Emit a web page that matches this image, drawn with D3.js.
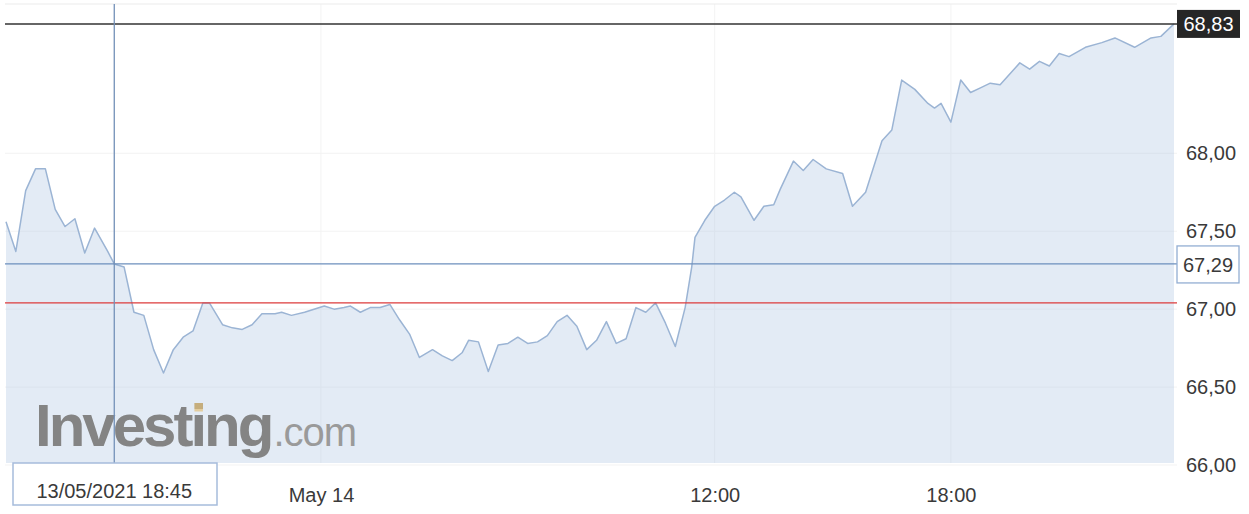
<!DOCTYPE html>
<html>
<head>
<meta charset="utf-8">
<script src="https://cdn.jsdelivr.net/npm/d3@7"></script>
<style>
    body { margin: 0; background: #fff; }
    #chart { width: 1249px; height: 514px; }
    #chart text { font-family: "Liberation Sans", Arial, sans-serif; }
</style>
</head>
<body>
<div id="chart"></div>
<script>
// trading minutes since 13/05/2021 16:00 (night break squeezed out)
const minutes = [0, 15, 30, 45, 60, 75, 90, 105, 120, 135, 155, 165, 180, 195, 210, 225, 240, 255, 270, 285,
    300, 310, 330, 345, 360, 375, 390, 410, 420, 435, 455, 485, 500, 515, 525, 540, 555, 570, 585, 600,
    615, 630, 650, 665, 680, 695, 705, 720, 735, 750, 765, 780, 795, 810, 825, 840, 855, 870, 885, 900,
    915, 930, 945, 960, 975, 990, 1005, 1020, 1035, 1045, 1050, 1065, 1080, 1095, 1110, 1120, 1140, 1155, 1170, 1180,
    1200, 1215, 1230, 1250, 1275, 1290, 1310, 1335, 1350, 1365, 1385, 1405, 1415, 1425, 1440, 1455, 1470, 1485, 1500, 1515,
    1545, 1560, 1575, 1590, 1605, 1620, 1645, 1670, 1690, 1720, 1745, 1760, 1780];

const prices = [67.56, 67.37, 67.76, 67.90, 67.90, 67.64, 67.53, 67.58, 67.36, 67.52, 67.37, 67.29, 67.27, 66.98, 66.96, 66.74, 66.59, 66.74, 66.82, 66.86,
    67.04, 67.04, 66.90, 66.88, 66.87, 66.90, 66.97, 66.97, 66.98, 66.96, 66.98, 67.02, 67.00, 67.01, 67.02, 66.98, 67.01, 67.01, 67.03, 66.93,
    66.84, 66.69, 66.74, 66.70, 66.67, 66.72, 66.80, 66.79, 66.60, 66.77, 66.78, 66.82, 66.78, 66.79, 66.83, 66.92, 66.96, 66.89, 66.74, 66.80,
    66.92, 66.78, 66.81, 67.01, 66.98, 67.04, 66.91, 66.76, 67.01, 67.27, 67.46, 67.57, 67.66, 67.70, 67.75, 67.72, 67.57, 67.66, 67.67, 67.77,
    67.95, 67.89, 67.96, 67.90, 67.87, 67.66, 67.75, 68.08, 68.15, 68.47, 68.41, 68.32, 68.29, 68.32, 68.20, 68.47, 68.39, 68.42, 68.45, 68.44,
    68.58, 68.54, 68.59, 68.56, 68.64, 68.62, 68.68, 68.71, 68.74, 68.68, 68.74, 68.75, 68.83];

const xTickLabels = ['May 14', '12:00', '18:00'];
const xTickMinutes = [480, 1080, 1440];
const yTicks = [66, 66.5, 67, 67.5, 68];

const lastPrice = 68.83;
const prevClose = 67.04;
const cursorMinute = 165;
const cursorPrice = 67.29;
const cursorLabel = '13/05/2021 18:45';

class PriceChart {
    constructor() {
        this.container = d3.select('#chart');
        this.width = 1249;
        this.height = 514;
        this.plot = { left: 5, right: 1177, top: 4, bottom: 463 };
        this.fmt = d => d3.format('.2f')(d).replace('.', ',');

        this.setupScales();
        this.setupSvg();
        this.drawGrid();
        this.drawSeries();
        this.drawWatermark();
        this.drawLevels();
        this.drawAxes();
        this.drawLabels();
    }

    setupScales() {
        this.x = d3.scaleLinear().domain([0, 1780]).range([6, 1174]);
        this.y = d3.scaleLinear().domain([66, 68.9]).range([465, 13]);
    }

    setupSvg() {
        this.svg = this.container
            .append('svg')
            .attr('width', this.width)
            .attr('height', this.height);

        this.svg.append('rect')
            .attr('width', this.width)
            .attr('height', this.height)
            .attr('fill', '#fff');
    }

    drawGrid() {
        const p = this.plot;
        const grid = this.svg.append('g').attr('class', 'grid');

        grid.selectAll('.hgrid')
            .data(yTicks)
            .join('line')
            .attr('x1', p.left).attr('x2', p.right)
            .attr('y1', d => this.y(d)).attr('y2', d => this.y(d))
            .attr('stroke', '#f3f3f3');

        grid.selectAll('.vgrid')
            .data(xTickMinutes)
            .join('line')
            .attr('x1', d => this.x(d)).attr('x2', d => this.x(d))
            .attr('y1', p.top).attr('y2', p.bottom)
            .attr('stroke', '#f3f3f3');

        // 上边框
        grid.append('line')
            .attr('x1', p.left).attr('x2', p.right)
            .attr('y1', p.top).attr('y2', p.top)
            .attr('stroke', '#ebebeb');
    }

    drawSeries() {
        const data = d3.zip(minutes, prices);

        const area = d3.area()
            .x(d => this.x(d[0]))
            .y0(this.plot.bottom)
            .y1(d => this.y(d[1]));

        const line = d3.line()
            .x(d => this.x(d[0]))
            .y(d => this.y(d[1]));

        this.svg.append('path')
            .datum(data)
            .attr('d', area)
            .attr('fill', 'rgba(176, 198, 226, 0.35)');

        this.svg.append('path')
            .datum(data)
            .attr('d', line)
            .attr('fill', 'none')
            .attr('stroke', '#9bb4d4')
            .attr('stroke-width', 1.5)
            .attr('stroke-linejoin', 'round');
    }

    drawWatermark() {
        const mark = this.svg.append('g').attr('class', 'watermark');

        const word = mark.append('text')
            .attr('x', 35)
            .attr('y', 446)
            .style('font-size', '60px')
            .style('font-weight', 'bold')
            .style('letter-spacing', '-3px')
            .attr('fill', '#848484')
            .text('Investing');

        const end = word.node().getComputedTextLength();
        mark.append('text')
            .attr('x', 35 + end + 2)
            .attr('y', 446)
            .style('font-size', '40px')
            .style('letter-spacing', '-1px')
            .attr('fill', '#9a9a9a')
            .text('.com');

        // i 上面的点，带一点黄色
        const iPos = word.node().getStartPositionOfChar(6);
        mark.append('rect')
            .attr('x', iPos.x + 4)
            .attr('y', 446 - 43)
            .attr('width', 8.5)
            .attr('height', 8.5)
            .attr('fill', '#e2c07a')
            .attr('opacity', 0.7);
    }

    drawLevels() {
        const p = this.plot;
        const levels = [
            { v: prevClose, color: '#dc3b3b', w: 1.3 },
            { v: cursorPrice, color: '#6d8fbd', w: 1.3 },
            { v: lastPrice, color: '#333333', w: 1.5 }
        ];

        this.svg.selectAll('.level')
            .data(levels)
            .join('line')
            .attr('class', 'level')
            .attr('x1', p.left).attr('x2', p.right)
            .attr('y1', d => this.y(d.v)).attr('y2', d => this.y(d.v))
            .attr('stroke', d => d.color)
            .attr('stroke-width', d => d.w);

        // 十字光标竖线
        this.svg.append('line')
            .attr('x1', this.x(cursorMinute)).attr('x2', this.x(cursorMinute))
            .attr('y1', p.top).attr('y2', p.bottom)
            .attr('stroke', '#7390b8')
            .attr('stroke-width', 1.3);
    }

    drawAxes() {
        const xAxis = d3.axisBottom(this.x)
            .tickValues(xTickMinutes)
            .tickFormat((d, i) => xTickLabels[i])
            .tickSize(0)
            .tickPadding(25);

        this.svg.append('g')
            .attr('transform', `translate(0,${this.plot.bottom})`)
            .call(xAxis)
            .call(g => g.select('.domain').remove())
            .selectAll('text')
            .style('font-size', '20px')
            .attr('fill', '#3a3a3a');

        const yAxis = d3.axisRight(this.y)
            .tickValues(yTicks)
            .tickFormat(this.fmt)
            .tickSize(0)
            .tickPadding(8);

        this.svg.append('g')
            .attr('transform', `translate(1178,0)`)
            .call(yAxis)
            .call(g => g.select('.domain').remove())
            .selectAll('text')
            .style('font-size', '20px')
            .attr('fill', '#3a3a3a');
    }

    drawLabels() {
        // 最新价
        const yl = this.y(lastPrice);
        this.svg.append('rect')
            .attr('x', 1177).attr('y', yl - 14)
            .attr('width', 63).attr('height', 28)
            .attr('fill', '#262626');
        this.svg.append('text')
            .attr('x', 1208.5).attr('y', yl)
            .attr('dy', '0.35em')
            .attr('text-anchor', 'middle')
            .style('font-size', '20px')
            .attr('fill', '#fff')
            .text(this.fmt(lastPrice));

        // 光标价格
        const yc = this.y(cursorPrice);
        this.svg.append('rect')
            .attr('x', 1177).attr('y', yc - 18)
            .attr('width', 62).attr('height', 37)
            .attr('fill', '#fff')
            .attr('stroke', '#93aed3')
            .attr('stroke-width', 1.3);
        this.svg.append('text')
            .attr('x', 1208).attr('y', yc + 1)
            .attr('dy', '0.35em')
            .attr('text-anchor', 'middle')
            .style('font-size', '20px')
            .attr('fill', '#3a3a3a')
            .text(this.fmt(cursorPrice));

        // 光标时间
        const xc = this.x(cursorMinute);
        this.svg.append('rect')
            .attr('x', 13).attr('y', this.plot.bottom)
            .attr('width', 204).attr('height', 42)
            .attr('fill', '#fff')
            .attr('stroke', '#a6bcdb')
            .attr('stroke-width', 1.5);
        this.svg.append('text')
            .attr('x', xc).attr('y', 498)
            .attr('text-anchor', 'middle')
            .style('font-size', '20px')
            .attr('fill', '#3a3a3a')
            .text(cursorLabel);
    }
}

document.addEventListener('DOMContentLoaded', () => {
    new PriceChart();
});
</script>
</body>
</html>
